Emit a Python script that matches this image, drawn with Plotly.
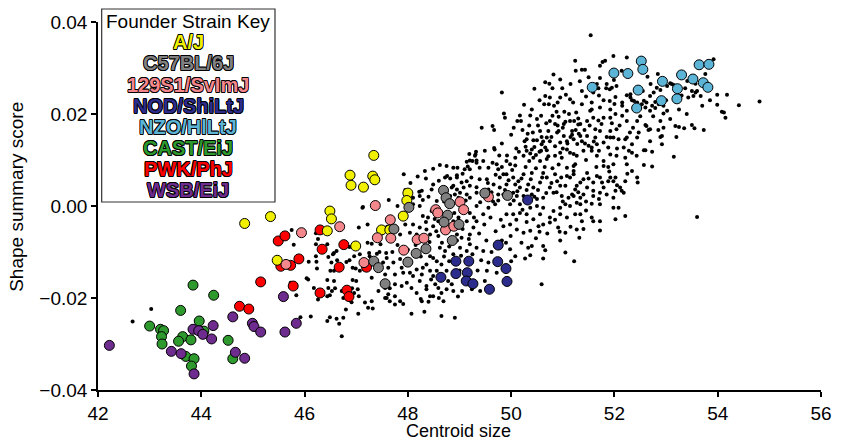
import plotly.graph_objects as go

# ---------------- data (centroid size, shape summary score) ----------------
do_mice = [
 (42.67,-0.0251),(43.03,-0.0224),(45.75,-0.0052),(45.79,-0.0084),(45.84,-0.0194),(45.73,-0.0167),
 (46.22,-0.0059),(46.26,-0.0072),(46.22,-0.0083),(46.44,-0.0083),(47.05,-0.0047),(47.13,-0.0002),(47.22,-0.0040),
 (46.08,-0.0121),(46.22,-0.0109),(46.23,-0.0121),(46.24,-0.0136),(46.46,-0.0111),(46.55,-0.0105),(46.57,-0.0102),
 (46.62,-0.0098),(46.63,-0.0118),(46.50,-0.0141),(46.57,-0.0141),(46.52,-0.0123),(46.81,-0.0122),(46.87,-0.0089),
 (46.96,-0.0109),(46.93,-0.0134),(46.99,-0.0136),(47.07,-0.0141),(47.15,-0.0138),(47.23,-0.0127),(47.26,-0.0109),
 (47.07,-0.0105),(47.22,-0.0080),(47.25,-0.0102),(47.10,-0.0120),(46.87,-0.0118),(46.04,-0.0157),(46.07,-0.0160),
 (46.18,-0.0178),(46.44,-0.0161),(46.57,-0.0163),(46.46,-0.0178),(46.25,-0.0185),(46.26,-0.0203),(46.35,-0.0194),
 (46.44,-0.0196),(46.53,-0.0185),(46.59,-0.0179),(46.49,-0.0194),(46.72,-0.0185),(46.75,-0.0200),(46.92,-0.0179),
 (46.96,-0.0189),(47.03,-0.0181),(47.05,-0.0196),(47.00,-0.0163),(46.93,-0.0161),(46.91,-0.0209),(45.92,-0.0242),
 (46.12,-0.0240),(46.49,-0.0242),(46.44,-0.0250),(46.62,-0.0245),(46.67,-0.0256),(46.75,-0.0243),(46.80,-0.0225),
 (47.04,-0.0234),(46.72,-0.0283),(47.23,-0.0221),(47.17,-0.0210),(47.30,-0.0207),
 (47.43,-0.0185),(47.59,-0.0200),(47.62,-0.0192),(47.59,-0.0170),(47.75,-0.0214),(47.91,-0.0213),(48.07,-0.0234),
 (48.32,-0.0230),(48.25,-0.0202),(48.17,-0.0189),(48.36,-0.0181),(48.49,-0.0196),(48.59,-0.0178),(48.69,-0.0207),
 (48.88,-0.0185),(48.65,-0.0239),(48.91,-0.0243),(48.97,-0.0197),(47.30,-0.0082),(47.40,-0.0104),(47.47,-0.0083),
 (47.58,-0.0102),(47.59,-0.0113),(47.52,-0.0123),(47.72,-0.0123),(47.62,-0.0134),(47.56,-0.0149),(47.75,-0.0149),
 (47.88,-0.0134),(47.91,-0.0145),(48.04,-0.0145),(48.17,-0.0138),(48.10,-0.0152),(47.98,-0.0167),(47.88,-0.0174),
 (47.75,-0.0170),(47.65,-0.0179),(47.56,-0.0178),(47.56,-0.0200),(47.75,-0.0196),(47.85,-0.0207),(47.65,-0.0207),
 (47.40,-0.0134),(47.30,-0.0156),(47.32,-0.0223),(48.07,-0.0178),(48.27,-0.0207),(48.43,-0.0196),(48.40,-0.0208),
 (48.65,-0.0189),(49.24,-0.0181),(49.40,-0.0185),(49.49,-0.0163),(49.53,-0.0141),(49.56,-0.0123),(49.46,-0.0098),
 (49.33,-0.0091),(49.20,-0.0083),(49.14,-0.0098),(49.01,-0.0091),(48.88,-0.0105),(48.72,-0.0098),(48.62,-0.0091),
 (48.65,-0.0127),(48.56,-0.0120),(48.49,-0.0113),(48.43,-0.0109),(48.36,-0.0127),(48.43,-0.0141),(48.56,-0.0141),
 (48.75,-0.0141),(48.78,-0.0163),(48.85,-0.0170),(48.75,-0.0181),(48.53,-0.0170),(48.36,-0.0174),(48.23,-0.0163),
 (48.27,-0.0149),(48.29,-0.0134),(48.49,-0.0152),(48.10,0.0004),(48.23,0.0000),(48.29,-0.0022),(48.39,-0.0025),
 (48.46,-0.0011),(48.59,-0.0033),(48.49,-0.0044),(48.36,-0.0051),(48.23,-0.0047),(48.10,-0.0040),(48.04,-0.0058),
 (47.85,-0.0062),(48.17,-0.0062),(48.43,-0.0062),(48.59,-0.0065),(48.75,-0.0058),(48.95,-0.0062),(49.04,-0.0069),
 (49.20,-0.0062),(49.27,-0.0047),(49.33,-0.0033),(49.46,-0.0018),(49.56,-0.0004),(49.69,0.0004),(49.20,-0.0015),
 (49.33,0.0000),(49.14,-0.0033),(48.98,-0.0025),(48.88,-0.0033),
 (47.63,0.0013),(47.12,-0.0004),(47.92,0.0069),(48.19,0.0064),(48.33,0.0076),(48.49,0.0081),(48.62,0.0089),
 (48.75,0.0087),(48.88,0.0083),(48.95,0.0067),(49.06,0.0070),(49.16,0.0086),(49.25,0.0098),(49.31,0.0112),
 (48.22,0.0031),(48.29,0.0013),(48.49,0.0047),(48.56,0.0011),(48.88,0.0044),(48.91,0.0025),(49.43,0.0170),
 (49.64,0.0174),(49.67,0.0165),(49.49,0.0120),(49.68,0.0123),(49.19,0.0113),(49.32,0.0118),(49.30,0.0109),
 (49.20,0.0099),(49.14,0.0096),(49.33,0.0094),(49.46,0.0098),(49.64,0.0094),(49.72,0.0091),(49.75,0.0080),
 (49.56,0.0083),(49.39,0.0083),(49.20,0.0080),(49.10,0.0080),(48.96,0.0083),(48.95,0.0062),(48.76,0.0065),
 (48.82,0.0060),(48.72,0.0062),(48.46,0.0036),(48.65,0.0036),(48.75,0.0033),(48.85,0.0040),(48.95,0.0036),
 (49.01,0.0029),(49.08,0.0040),(49.20,0.0044),(49.33,0.0041),(49.56,0.0036),(49.66,0.0047),(49.53,0.0058),
 (49.39,0.0058),(49.23,0.0062),(49.14,0.0054),(49.04,0.0051),(48.27,0.0033),(48.23,0.0022),(48.10,0.0018),
 (48.82,0.0022),(48.98,0.0018),(49.14,0.0025),(49.20,0.0018),(49.33,0.0029),(49.46,0.0022),(49.59,0.0018),
 (49.75,0.0025),(49.82,0.0247),(49.86,0.0201),(49.88,0.0192),(49.82,0.0136),(49.67,0.0126),(49.77,0.0110),
 (49.33,0.0099),
 (51.24,0.0316),(51.25,0.0294),(50.82,0.0286),(50.66,0.0269),(50.74,0.0266),(51.33,0.0271),(50.80,0.0256),
 (50.99,0.0256),(51.06,0.0242),(51.14,0.0232),(50.75,0.0236),(50.64,0.0221),(50.73,0.0221),(50.83,0.0218),
 (50.17,0.0197),(50.37,0.0197),(50.50,0.0189),(50.58,0.0196),(50.12,0.0185),(50.19,0.0185),(50.80,0.0196),
 (50.92,0.0194),(51.03,0.0205),(51.05,0.0183),(51.14,0.0185),(51.22,0.0185),(51.26,0.0203),(51.30,0.0177),
 (50.32,0.0157),(50.56,0.0163),(50.59,0.0150),(50.69,0.0149),(50.90,0.0175),(50.92,0.0163),(51.02,0.0152),
 (51.18,0.0155),(51.09,0.0136),(51.25,0.0165),(51.34,0.0152),(50.26,0.0141),(50.43,0.0143),(50.50,0.0143),
 (50.28,0.0129),(50.45,0.0128),(50.58,0.0120),(50.37,0.0114),(50.48,0.0111),(50.69,0.0121),(50.95,0.0116),
 (51.08,0.0123),(51.21,0.0113),(51.24,0.0091),(51.21,0.0076),
 (51.37,0.0296),(51.72,0.0305),(51.77,0.0313),(51.98,0.0326),(52.14,0.0294),(51.72,0.0278),(51.85,0.0265),
 (51.95,0.0257),(52.04,0.0261),(51.99,0.0274),(51.66,0.0265),(51.60,0.0254),(51.37,0.0250),(50.66,0.0239),
 (50.95,0.0236),(51.37,0.0221),(51.56,0.0225),(51.56,0.0210),(51.72,0.0214),(51.92,0.0210),(52.15,0.0218),
 (52.24,0.0207),(52.31,0.0243),(50.75,0.0185),(50.85,0.0178),(51.34,0.0178),(51.53,0.0207),(51.59,0.0192),
 (51.69,0.0186),(51.79,0.0192),(51.92,0.0192),(52.02,0.0200),(52.15,0.0196),(52.24,0.0185),(52.04,0.0167),
 (51.92,0.0163),(51.63,0.0167),(51.47,0.0152),(51.31,0.0157),(51.18,0.0163),(50.89,0.0160),(50.72,0.0163),
 (50.30,0.0145),(50.40,0.0123),(50.30,0.0120),(50.59,0.0134),(50.66,0.0127),(50.75,0.0141),(50.95,0.0138),
 (51.08,0.0141),(51.21,0.0145),(51.37,0.0141),(51.50,0.0131),(51.66,0.0134),(51.79,0.0138),(51.88,0.0127),
 (51.98,0.0149),(52.08,0.0145),(52.21,0.0145),(52.18,0.0127),(52.04,0.0109),(51.92,0.0112),(51.79,0.0098),
 (51.66,0.0109),(51.56,0.0120),(51.40,0.0120),(51.27,0.0109),(51.14,0.0116),(50.98,0.0105),(50.85,0.0109),
 (50.69,0.0102),(50.56,0.0098),(50.43,0.0105),(50.24,0.0109),(50.08,0.0105),(49.98,0.0091),(49.91,0.0098),
 (49.78,0.0062),(49.91,0.0069),(50.04,0.0062),(50.14,0.0054),(50.17,0.0040),(50.33,0.0047),(50.43,0.0040),
 (50.56,0.0051),(50.69,0.0062),(50.75,0.0040),(50.89,0.0054),(51.05,0.0044),(51.14,0.0062),(51.21,0.0069),
 (51.24,0.0036),(51.34,0.0051),(51.47,0.0040),(51.59,0.0051),(51.72,0.0062),(51.79,0.0040),(51.88,0.0054),
 (52.02,0.0062),(52.11,0.0040),(52.21,0.0054),(49.78,0.0040),(49.85,0.0025),(50.04,0.0029),(50.24,0.0022),
 (50.40,0.0025),(50.62,0.0018),(50.82,0.0029),(50.98,0.0022),(51.11,0.0018),(51.40,0.0025),(51.59,0.0022),
 (51.72,0.0029),(51.98,0.0018),(52.18,0.0029),
 (49.85,0.0069),(50.24,0.0069),(50.40,0.0072),(50.62,0.0072),(50.85,0.0069),(51.08,0.0065),(51.47,0.0072),
 (49.91,0.0047),(50.08,0.0047),(50.95,0.0044),(51.27,0.0044),(52.02,0.0033),(49.95,0.0018),(50.11,0.0022),
 (50.50,0.0015),(51.21,0.0022),(51.34,0.0018),(51.72,0.0004),(51.34,0.0004),(51.14,0.0000),(50.95,-0.0004),
 (50.82,-0.0011),(50.62,-0.0004),(50.50,0.0000),(50.37,-0.0004),(50.17,0.0004),(49.98,0.0004),(49.91,-0.0018),
 (50.04,-0.0018),(50.17,-0.0015),(50.30,-0.0018),(50.43,-0.0029),(50.56,-0.0018),(50.75,-0.0025),(50.95,-0.0018),
 (51.08,-0.0025),(51.24,-0.0018),(51.37,-0.0033),(51.56,-0.0025),(51.72,-0.0033),(51.98,-0.0004),(52.08,-0.0004),
 (52.21,-0.0022),(52.02,-0.0029),(49.85,-0.0044),(49.98,-0.0040),(50.11,-0.0051),(50.24,-0.0058),(50.37,-0.0054),
 (50.53,-0.0044),(50.62,-0.0040),(50.75,-0.0036),(50.91,-0.0047),(51.05,-0.0058),(51.27,-0.0051),(51.59,-0.0033),
 (51.72,-0.0053),(51.32,-0.0069),(52.14,0.0033),(50.94,-0.0056),(50.55,-0.0056),(49.99,-0.0065),(49.98,-0.0094),
 (50.08,-0.0109),(50.27,-0.0114),(50.33,-0.0091),(50.40,-0.0087),(50.37,-0.0107),(50.62,-0.0087),(50.66,-0.0096),
 (50.62,-0.0114),(51.05,-0.0101),(51.22,-0.0120),(50.59,-0.0170),(53.60,-0.0024),(51.56,0.0005),
 (51.54,0.0371),(51.43,0.0296),(51.82,0.0316),(52.24,0.0323),(51.69,0.0256),(51.84,0.0256),(51.91,0.0254),
 (51.59,0.0247),(51.79,0.0230),(51.91,0.0228),(52.02,0.0237),(52.15,0.0225),(52.24,0.0241),(52.31,0.0236),
 (52.34,0.0230),(52.38,0.0228),(52.53,0.0221),(52.62,0.0225),(52.69,0.0239),(52.76,0.0247),(52.79,0.0226),
 (52.86,0.0221),(52.89,0.0252),(52.82,0.0257),(52.64,0.0281),(52.84,0.0287),(53.02,0.0261),(53.08,0.0267),
 (53.15,0.0263),(53.18,0.0254),(53.37,0.0256),(53.41,0.0272),(53.57,0.0266),(53.60,0.0250),(53.53,0.0239),
 (53.43,0.0236),(53.70,0.0218),(53.99,0.0242),(53.99,0.0220),(54.18,0.0242),(54.12,0.0203),(54.41,0.0219),
 (54.81,0.0227),(53.92,0.0319),(53.76,0.0287),(53.73,0.0165),(52.95,0.0201),(52.89,0.0185),(53.08,0.0189),
 (53.18,0.0174),(53.25,0.0172),(53.35,0.0169),(53.50,0.0176),(53.55,0.0169),(52.95,0.0170),(52.89,0.0150),
 (52.92,0.0134),(52.69,0.0141),(52.62,0.0174),(52.47,0.0160),(52.36,0.0170),(52.44,0.0185),(51.47,0.0185),
 (51.02,0.0178),(52.57,0.0121),(52.73,0.0118),(53.15,0.0107),(52.44,0.0062),(52.45,0.0051),(52.34,0.0076),
 (52.24,0.0091),(52.21,0.0105),(51.98,0.0091),(51.79,0.0087),(51.92,0.0062),(51.98,0.0054),(51.66,0.0065),
 (51.76,0.0051),(51.59,0.0033),(51.40,0.0058),(51.21,0.0087),(51.08,0.0083),(51.18,0.0025),(51.27,0.0007),
 (51.05,0.0004),(51.34,-0.0018),(51.56,0.0127),(51.43,0.0136),(51.63,0.0149),(51.72,0.0163),(51.92,0.0149),
 (52.24,0.0149),(52.34,0.0134),(52.44,0.0149),(52.66,0.0165),(53.11,0.0265),(53.50,0.0250),(53.57,0.0247),
 (53.67,0.0239),(54.08,0.0205),(54.15,0.0192),(52.44,0.0225),(52.57,0.0229),(52.73,0.0218),(52.79,0.0213),
 (52.95,0.0218),(53.02,0.0207),(52.69,0.0207),(52.60,0.0214),(52.50,0.0213),(52.60,0.0176),(52.69,0.0167),
 (52.92,0.0152),(52.60,0.0121),(52.43,0.0109),(52.34,0.0116),(52.57,0.0089),(52.73,0.0086),
 # dense core, further readings
 (48.35,-0.0035),(48.42,-0.0078),(48.52,-0.0028),(48.55,-0.0055),(48.62,-0.0015),(48.66,-0.0080),(48.70,-0.0110),
 (48.80,-0.0088),(48.83,-0.0048),(48.90,-0.0015),(48.95,-0.0075),(49.03,-0.0108),(49.06,-0.0050),(49.10,-0.0002),
 (49.12,0.0012),(49.18,-0.0072),(49.25,-0.0105),(49.28,-0.0025),(49.38,-0.0060),(49.42,-0.0118),(49.40,0.0008),
 (49.48,-0.0040),(49.52,-0.0075),(49.60,-0.0025),(49.62,-0.0100),(49.65,0.0010),(49.70,-0.0055),(49.72,-0.0145),
 (49.80,-0.0030),(49.82,-0.0075),(48.45,-0.0160),(48.60,-0.0200),(48.80,-0.0120),(49.00,-0.0140),(49.35,-0.0140),
 (49.05,-0.0185),(48.25,-0.0110),(48.15,-0.0085),(48.00,-0.0095),(47.95,-0.0040),(47.80,-0.0085),(47.70,-0.0100),
 (47.85,-0.0115),(48.05,-0.0120),(47.50,-0.0060),(47.60,-0.0045),(47.45,-0.0100),(47.35,-0.0120),(47.80,0.0000),
 (47.95,0.0035),(48.40,0.0020),(48.60,0.0055),(48.70,0.0010),(48.35,0.0060),(48.05,0.0050),
 (49.55,0.0050),(49.62,0.0030),(49.70,0.0068),(49.75,0.0012),(49.82,0.0085),(49.88,0.0035),(49.92,0.0110),
 (49.95,0.0056),(50.02,0.0078),(50.05,0.0012),(50.08,0.0088),(50.12,0.0032),(50.15,0.0118),(50.20,0.0060),
 (50.22,-0.0008),(50.28,0.0085),(50.30,0.0035),(50.35,0.0098),(50.38,0.0058),(50.45,0.0020),(50.48,0.0082),
 (50.52,0.0035),(50.55,0.0118),(50.60,0.0062),(50.65,0.0085),(50.68,0.0028),(50.72,0.0108),(50.78,0.0050),
 (50.80,0.0082),(50.88,0.0030),(50.92,0.0090),(50.97,0.0062),(51.00,0.0010),(50.10,-0.0030),(50.30,-0.0035),
 (50.48,-0.0070),(50.70,-0.0060),(50.85,-0.0030),(50.20,-0.0080),(49.90,-0.0080),(50.00,-0.0120),
 (50.05,0.0170),(50.10,0.0125),(50.22,0.0165),(50.35,0.0175),(50.42,0.0160),(50.52,0.0175),(50.62,0.0140),
 (50.68,0.0180),(50.78,0.0150),(50.85,0.0130),(50.88,0.0205),(51.00,0.0170),(51.00,0.0125),(51.12,0.0200),
 (51.15,0.0150),(51.28,0.0135),(51.30,0.0190),(51.42,0.0165),(51.45,0.0100),(51.52,0.0175),(51.60,0.0140),
 (51.70,0.0120),(51.75,0.0178),(51.85,0.0150),(51.88,0.0085),(51.95,0.0180),(52.05,0.0125),(52.10,0.0175),
 (52.30,0.0160),(52.28,0.0120),(50.40,0.0210),(50.55,0.0230),(50.90,0.0225),(51.20,0.0225),(51.45,0.0238),
 (51.70,0.0240),(52.00,0.0222),(50.25,0.0220),(50.00,0.0155),(50.45,0.0255),(51.15,0.0265),(51.50,0.0280),
 (50.95,0.0275),(51.30,0.0030),(51.45,0.0010),(51.50,0.0060),(51.65,0.0085),(51.70,0.0015),(51.85,0.0025),
 (51.90,0.0075),(52.05,0.0045),(52.25,0.0070),(51.40,-0.0050),(51.15,-0.0045),(50.95,-0.0075),(51.45,-0.0010),
 (52.50,0.0195),(52.75,0.0195),(53.00,0.0230),(53.25,0.0210),(53.40,0.0200),(53.30,0.0240),(52.70,0.0265),
 (52.55,0.0250),(53.85,0.0230),(53.20,0.0150),(52.85,0.0165),
]

aj = [(44.84,-0.0038),(45.34,-0.0023),(45.47,-0.0118),(46.49,-0.0011),(46.52,-0.0028),(46.44,-0.0054),
      (46.99,-0.0087),(47.34,0.0110),(46.88,0.0067),(47.32,0.0065),(47.36,0.0057),(46.90,0.0045),(47.14,0.0041),
      (48.00,0.0028),(47.98,0.0012),(47.91,-0.0022),(47.49,-0.0052),(47.65,-0.0052)]
b6 = [(48.69,0.0034),(48.74,0.0018),(48.81,0.0005),(48.02,-0.0003),(48.77,-0.0020),(49.49,0.0028),(49.93,0.0023),
      (47.73,-0.0050),(48.99,-0.0040),(48.70,-0.0035),(48.86,-0.0075),(48.35,-0.0093),(48.16,-0.0103),
      (48.00,-0.0122),(47.34,-0.0120),(47.43,-0.0134),(47.56,-0.0169)]
s129 = [(45.94,-0.0058),(46.68,-0.0045),(45.64,-0.0127),(47.15,-0.0123),(47.37,0.0001),(47.66,-0.0030),
        (48.54,-0.0008),(48.58,-0.0015),(49.01,0.0009),(49.08,-0.0008),(49.56,0.0020),(47.67,-0.0070),
        (47.92,-0.0096),(48.18,-0.0073),(48.31,-0.0070),(48.73,-0.0052),(48.89,-0.0044),(47.41,-0.0069)]
nod = [(48.93,-0.0120),(49.18,-0.0120),(48.93,-0.0147),(49.15,-0.0145),(48.64,-0.0155),(49.13,-0.0163),
       (49.26,-0.0169),(49.58,-0.0181),(49.75,-0.0085),(49.74,-0.0121),(49.90,-0.0136),(49.92,-0.0164),(50.32,0.0013)]
nzo = [(51.57,0.0258),(51.99,0.0289),(52.26,0.0288),(52.52,0.0315),(52.55,0.0297),(52.46,0.0252),(52.43,0.0213),
       (52.93,0.0271),(52.91,0.0229),(53.22,0.0255),(53.21,0.0233),(53.30,0.0285),(53.52,0.0276),(53.64,0.0307),
       (53.83,0.0308),(53.72,0.0268),(53.81,0.0258)]
cast = [(43.84,-0.0172),(44.24,-0.0194),(43.60,-0.0227),(43.96,-0.0250),(43.00,-0.0261),(43.21,-0.0268),
        (43.27,-0.0271),(43.23,-0.0284),(43.24,-0.0300),(43.64,-0.0284),(43.56,-0.0294),(43.80,-0.0291),
        (44.05,-0.0272),(43.70,-0.0327),(43.86,-0.0332),(43.81,-0.0348),(44.52,-0.0292),(44.61,-0.0332)]
pwk = [(44.74,-0.0218),(44.92,-0.0224),(45.15,-0.0165),(45.49,-0.0076),(45.62,-0.0065),(45.54,-0.0131),
       (45.73,-0.0129),(45.78,-0.0174),(45.89,-0.0115),(46.30,-0.0052),(46.34,-0.0094),(46.76,-0.0084),
       (46.67,-0.0133),(46.30,-0.0189),(46.82,-0.0183),(46.86,-0.0197),(47.20,-0.0133)]
wsb = [(42.22,-0.0303),(43.42,-0.0316),(43.61,-0.0321),(43.84,-0.0268),(43.95,-0.0271),(44.03,-0.0279),
       (44.20,-0.0289),(44.23,-0.0260),(43.86,-0.0365),(44.61,-0.0241),(44.66,-0.0318),(44.84,-0.0331),
       (44.99,-0.0255),(45.02,-0.0262),(45.15,-0.0274),(45.59,-0.0197),(45.62,-0.0274),(45.84,-0.0255)]

strain_names = ["A/J", "C57BL/6J", "129S1/SvImJ", "NOD/ShiLtJ", "NZO/HlLtJ", "CAST/EiJ", "PWK/PhJ", "WSB/EiJ"]
strain_data = [aj, b6, s129, nod, nzo, cast, pwk, wsb]
strain_colors = ["#F0F000", "#808080", "#F4878C", "#2C2C8C", "#5CB4D6", "#2E9A2E", "#FF0000", "#6E2C8E"]

x_ticks = [42, 44, 46, 48, 50, 52, 54, 56]
y_ticks = [-0.04, -0.02, 0.0, 0.02, 0.04]

# ---------------- figure ----------------
fig = go.Figure()
fig.add_trace(go.Scatter(
    x=[p[0] for p in do_mice], y=[p[1] for p in do_mice], mode="markers",
    marker=dict(size=4, color="black", line=dict(width=0)), showlegend=False, hoverinfo="skip"))

draw_order = [5, 7, 6, 0, 2, 1, 3, 4]
for i in draw_order:
    pts = strain_data[i]
    fig.add_trace(go.Scatter(
        x=[p[0] for p in pts], y=[p[1] for p in pts], mode="markers", name=strain_names[i],
        marker=dict(size=10, color=strain_colors[i], line=dict(width=1, color="black")),
        showlegend=False))

font_main = "Liberation Sans, Arial, Helvetica, sans-serif"
axis_common = dict(showline=True, linecolor="black", linewidth=1.6, ticks="outside", ticklen=5,
                   tickwidth=1.6, tickcolor="black", showgrid=False, zeroline=False,
                   tickfont=dict(family=font_main, size=19, color="black"))

fig.update_layout(
    width=844, height=442,
    margin=dict(l=98, r=23, t=22, b=52),
    paper_bgcolor="white", plot_bgcolor="white",
    xaxis=dict(range=[42, 56], tickvals=x_ticks, ticktext=[str(v) for v in x_ticks], **axis_common),
    yaxis=dict(range=[-0.04, 0.04], tickvals=y_ticks,
               ticktext=["\u22120.04", "\u22120.02", "0.00", "0.02", "0.04"], **axis_common),
    showlegend=False,
)

# axis titles
fig.add_annotation(text="Centroid size", xref="paper", yref="paper", x=0.498, y=-0.112,
                   xanchor="center", yanchor="middle", showarrow=False,
                   font=dict(family=font_main, size=18, color="black"))
fig.add_annotation(text="Shape summary score", xref="paper", yref="paper", x=-0.112, y=0.525,
                   xanchor="center", yanchor="middle", showarrow=False, textangle=-90,
                   font=dict(family=font_main, size=19, color="black"))

# legend key box
fig.add_shape(type="rect", xref="paper", yref="paper", x0=0.0051, x1=0.2448, y0=0.5109, y1=1.0353,
              line=dict(color="#333333", width=1.2), fillcolor="white", layer="above")
fig.add_annotation(text="Founder Strain Key", xref="paper", yref="paper", x=0.1245, y=1.0027,
                   xanchor="center", yanchor="middle", showarrow=False,
                   font=dict(family=font_main, size=19, color="black"))
outline = ("0.6px 0.6px 0 #000, -0.6px -0.6px 0 #000, 0.6px -0.6px 0 #000, -0.6px 0.6px 0 #000, "
           "0.8px 0 0 #000, -0.8px 0 0 #000, 0 0.8px 0 #000, 0 -0.8px 0 #000")
label_y = [0.9457, 0.8886, 0.8288, 0.7717, 0.7147, 0.6576, 0.6005, 0.5435]
for name, col, yy in zip(strain_names, strain_colors, label_y):
    fig.add_annotation(text="<b>" + name + "</b>", xref="paper", yref="paper", x=0.1245, y=yy,
                       xanchor="center", yanchor="middle", showarrow=False,
                       font=dict(family=font_main, size=20, color=col, shadow=outline))

fig.write_html("out.html")
